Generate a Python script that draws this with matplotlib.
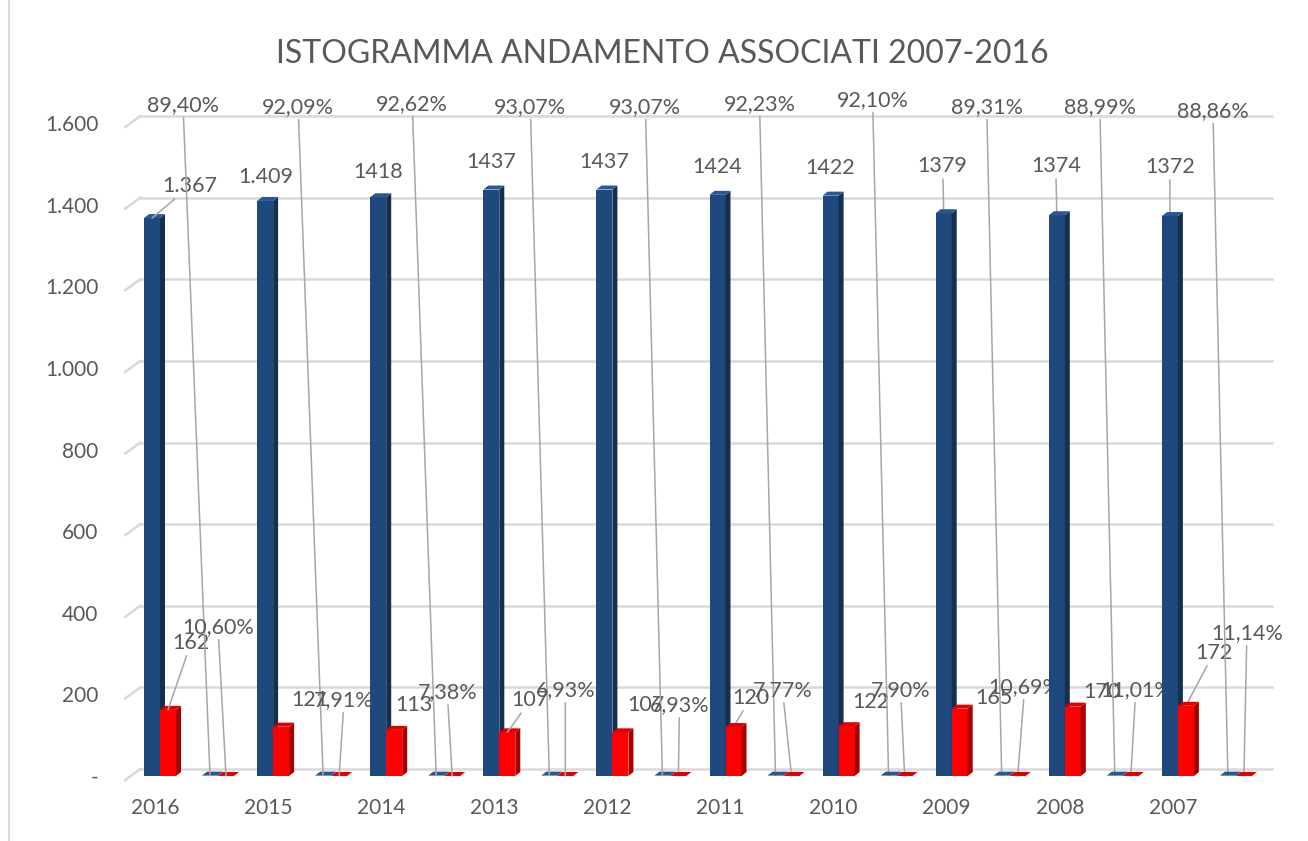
import matplotlib
matplotlib.use("Agg")
import matplotlib.pyplot as plt
from matplotlib.lines import Line2D
from matplotlib.patches import Polygon

# Dati
anni = ["2016", "2015", "2014", "2013", "2012", "2011", "2010", "2009", "2008", "2007"]
soci = [1367, 1409, 1418, 1437, 1437, 1424, 1422, 1379, 1374, 1372]
altri = [162, 121, 113, 107, 107, 120, 122, 165, 170, 172]
perc_soci = [89.40, 92.09, 92.62, 93.07, 93.07, 92.23, 92.10, 89.31, 88.99, 88.86]
perc_altri = [10.60, 7.91, 7.38, 6.93, 6.93, 7.77, 7.90, 10.69, 11.01, 11.14]
migliaia_col_punto = [True, True, False, False, False, False, False, False, False, False]
y_ticks = [0, 200, 400, 600, 800, 1000, 1200, 1400, 1600]

# Stile
TEXT = "#595959"
GRID = "#D9D9D9"
LEADER = "#A6A6A6"
BLU = ("#1F497D", "#15304F", "#2B5894")
ROSSO = ("#FF0000", "#A80000", "#E00000")
PX_X = 113.1          # pixel per categoria
PX_Y = 653 / 1600     # pixel per unita'
W = 16 / PX_X
DX = 5 / PX_X
DY = 4 / PX_Y

# posizioni etichette (offset in pixel dal punto dati) e linee guida
off_soci = [(38, 32), (1, 24), (0, 25), (0, 28), (0, 28), (0, 28), (0, 28), (-1, 47), (-1, 49), (0, 49)]
lead_soci = [True, False, False, False, False, False, False, True, True, True]
off_altri = [(23, 67), (29, 27), (20, 25), (23, 32), (26, 27), (17, 29), (24, 24), (34, 11), (29, 15), (28, 53)]
lead_altri = [True, False, False, True, False, True, False, False, False, True]
off_psoci = [(-27, 671), (-25, 669), (-24, 672), (-19, 669), (-17, 669), (-16, 672), (-16, 676),
             (-15, 669), (-15, 669), (-15, 665)]
off_paltri = [(-8, 149), (5, 76), (-5, 84), (0, 86), (1, 71), (-9, 86), (-4, 86), (7, 89), (5, 86), (3, 143)]

plt.rcParams["font.family"] = ["Lato", "DejaVu Sans"]


def bar3d(ax, lefts, heights, colors, z):
    front, side, top = colors
    ax.bar(lefts, heights, width=W, align="edge", color=front, linewidth=0, zorder=z)
    for x0, h in zip(lefts, heights):
        x1 = x0 + W
        ax.add_patch(Polygon([(x1, 0), (x1 + DX, DY), (x1 + DX, h + DY), (x1, h)],
                             facecolor=side, edgecolor="none", zorder=z))
        ax.add_patch(Polygon([(x0, h), (x1, h), (x1 + DX, h + DY), (x0 + DX, h + DY)],
                             facecolor=top, edgecolor="none", zorder=z))


def etichetta(ax, testo, xy, off, leader=True):
    kw = {}
    if leader:
        kw["arrowprops"] = dict(arrowstyle="-", color=LEADER, lw=1.1, shrinkA=0, shrinkB=0)
    ax.annotate(testo, xy=xy, xytext=off, textcoords="offset pixels", ha="center", va="center",
                fontsize=15.5, color=TEXT, zorder=20, annotation_clip=False, **kw)


def fmt_num(v, punto=True):
    if v == 0:
        return "-"
    return f"{v:,.0f}".replace(",", ".") if punto else f"{v:.0f}"


def fmt_perc(p):
    return f"{p:.2f}".replace(".", ",") + "%"


fig = plt.figure(figsize=(13.08, 8.41), dpi=100)
ax = fig.add_axes([140.3 / 1308, 65 / 841, 1134.4 / 1308, 653 / 841])
ax.set_xlim(-0.13, 9.9)
ax.set_ylim(0, 1600)
for s in ax.spines.values():
    s.set_visible(False)

# griglia (parete di fondo 3D)
for v in y_ticks:
    ax.plot([-0.13, 9.88], [v + 7 / PX_Y] * 2, color=GRID, lw=1.8, zorder=0, clip_on=False)
    ax.plot([-0.13 - 15 / PX_X, -0.13], [v - 4 / PX_Y, v + 7 / PX_Y], color=GRID, lw=1.8,
            zorder=0, clip_on=False)

idx = list(range(len(anni)))
x_soci = [i - 11 / PX_X for i in idx]
x_altri = [i + 5 / PX_X for i in idx]
x_psoci = [i + 47 / PX_X for i in idx]
x_paltri = [i + 63 / PX_X for i in idx]

for i in idx:
    bar3d(ax, [x_soci[i]], [soci[i]], BLU, 2 + 4 * i)
    bar3d(ax, [x_altri[i]], [altri[i]], ROSSO, 3 + 4 * i)
    bar3d(ax, [x_psoci[i]], [perc_soci[i] / 100], BLU, 4 + 4 * i)
    bar3d(ax, [x_paltri[i]], [perc_altri[i] / 100], ROSSO, 5 + 4 * i)

for i in idx:
    etichetta(ax, fmt_num(soci[i], migliaia_col_punto[i]), (x_soci[i] + W / 2, soci[i]),
              off_soci[i], lead_soci[i])
    etichetta(ax, fmt_num(altri[i], migliaia_col_punto[i]), (x_altri[i] + W / 2, altri[i]),
              off_altri[i], lead_altri[i])
    etichetta(ax, fmt_perc(perc_soci[i]), (x_psoci[i] + W / 2, perc_soci[i] / 100), off_psoci[i])
    etichetta(ax, fmt_perc(perc_altri[i]), (x_paltri[i] + W / 2, perc_altri[i] / 100), off_paltri[i])

ax.set_yticks(y_ticks, [fmt_num(v) for v in y_ticks])
ax.set_xticks(idx, anni)
ax.tick_params(axis="y", length=0, pad=30, labelsize=15, labelcolor=TEXT)
ax.tick_params(axis="x", length=0, pad=16, labelsize=15, labelcolor=TEXT)

fig.text(662 / 1308, 1 - 54 / 841, "ISTOGRAMMA ANDAMENTO ASSOCIATI 2007-2016", ha="center",
         va="center", fontsize=23, color=TEXT)
fig.add_artist(Line2D([9 / 1308] * 2, [0, 1], transform=fig.transFigure, color=GRID, lw=1.5))

fig.savefig("out.png", dpi=100)
